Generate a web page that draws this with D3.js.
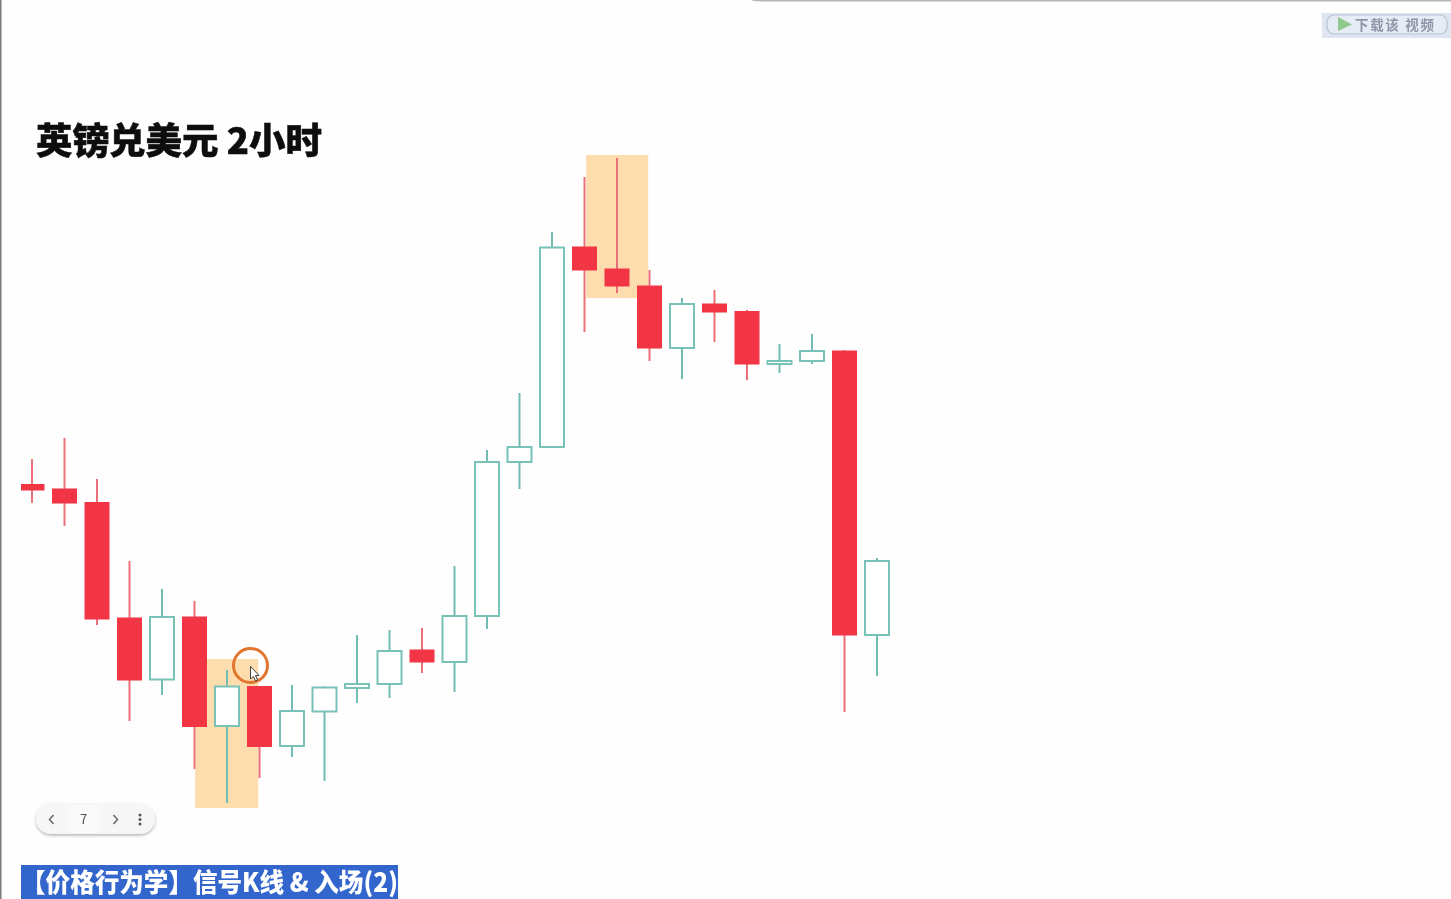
<!DOCTYPE html>
<html>
<head>
<meta charset="utf-8">
<style>
html, body { margin: 0; padding: 0; background: #fefefe; overflow: hidden; }
svg { display: block; }
text { font-family: "Noto Sans CJK SC", "Noto Sans", sans-serif; }
</style>
</head>
<body>
<script src="https://cdnjs.cloudflare.com/ajax/libs/d3/7.8.5/d3.min.js"></script>
<script>
//-----------------------------DATA-----------------------------//
// no price axis in the picture, so levels are just read off it (unitless)
var opens  = [414.5, 410, 396.5, 281, 219.5, 282, 173, 212.5, 153, 187.5, 211, 215, 249, 237, 283, 437, 452, 652, 630, 613, 551, 595, 587.5, 535, 538, 548, 264];
var closes = [409, 396, 280, 219, 282, 172.5, 212.5, 152.5, 188, 211.5, 215, 248, 237, 283, 437, 452, 651.5, 629, 613, 551, 595, 587, 535, 538, 548, 264, 338];
var highs  = [440, 461, 420, 338, 310, 298, 229, 213, 214, 212.5, 264, 269, 271, 333, 449, 506, 667, 722, 741, 629, 601, 609, 589, 555, 565, 549, 341];
var lows   = [396, 373, 274, 178, 204, 130, 96, 121, 142, 118, 196, 201, 226, 207, 270, 410, 452, 567, 606, 538, 520, 557, 519, 526, 535, 187, 223];
var candleIndex = d3.range(opens.length);

var titleText = "英镑兑美元 2小时";
var bannerText = "【价格行为学】信号K线 & 入场(2)";
var pageLabel = "7";
var buttonText = "下载该 视频";

// highlighted zones: first/last candle slot and the level range
var zoneSlots  = [[5.02, 6.96], [17.05, 18.96]];
var zoneLevels = [[91, 240], [601, 744]];

//-----------------------------SVG------------------------------//
var width = 1451;
var height = 899;
var bodyW = 24;

var svg = d3.select("body").append("svg")
    .attr("width", width)
    .attr("height", height);

var defs = svg.append("defs");
defs.append("clipPath").attr("id", "plot")
    .append("rect").attr("x", 21).attr("y", 0).attr("width", width).attr("height", height);
var soft = defs.append("filter").attr("id", "soft");
soft.append("feGaussianBlur").attr("stdDeviation", 0.6);
// the reference is a video frame, everything is a little soft
var video = defs.append("filter").attr("id", "video")
    .attr("filterUnits", "userSpaceOnUse")
    .attr("x", 0).attr("y", 0).attr("width", width).attr("height", height);
video.append("feGaussianBlur").attr("stdDeviation", 0.35);
var shadow = defs.append("filter").attr("id", "shadow")
    .attr("x", "-10%").attr("y", "-30%").attr("width", "120%").attr("height", "170%");
shadow.append("feDropShadow").attr("dx", 0).attr("dy", 1.5).attr("stdDeviation", 1.5)
    .attr("flood-color", "#000").attr("flood-opacity", 0.3);

//----------------------------SCALES----------------------------//
var xScale = d3.scaleLinear().domain([0, 26]).range([32, 877]);
var yScale = d3.scaleLinear().domain([0, 899]).range([899, 0]);

//----------------------------FRAME-----------------------------//
svg.append("rect").attr("x", 0).attr("y", 0).attr("width", 1.5).attr("height", height).attr("fill", "#7d7d7d");
svg.append("path").attr("d", "M752,0.5 Q756,1.5 762,1.5 H1451 V0 H752 Z").attr("fill", "#b5b5b5");

//----------------------------ZONES-----------------------------//
var page = svg.append("g").attr("filter", "url(#video)");
var chart = page.append("g").attr("clip-path", "url(#plot)");

chart.selectAll(".zone")
    .data(zoneSlots)
    .enter().append("rect")
    .attr("class", "zone")
    .attr("x", function(d) { return xScale(d[0]); })
    .attr("width", function(d) { return xScale(d[1]) - xScale(d[0]); })
    .attr("y", function(d, i) { return yScale(zoneLevels[i][1]); })
    .attr("height", function(d, i) { return yScale(zoneLevels[i][0]) - yScale(zoneLevels[i][1]); })
    .attr("fill", "#fddcae");

//---------------------------CANDLES----------------------------//
var isUp = function(i) { return closes[i] < opens[i]; };

chart.selectAll(".wick")
    .data(candleIndex)
    .enter().append("line")
    .attr("class", "wick")
    .attr("x1", function(i) { return xScale(i); })
    .attr("x2", function(i) { return xScale(i); })
    .attr("y1", function(i) { return yScale(highs[i]); })
    .attr("y2", function(i) { return yScale(lows[i]); })
    .attr("stroke", function(i) { return isUp(i) ? "#ec7079" : "#72bcb1"; })
    .attr("stroke-width", 2);

chart.selectAll(".body")
    .data(candleIndex)
    .enter().append("rect")
    .attr("class", "body")
    .attr("x", function(i) { return xScale(i) - bodyW / 2; })
    .attr("width", bodyW)
    .attr("y", function(i) { return yScale(Math.max(opens[i], closes[i])); })
    .attr("height", function(i) { return Math.abs(yScale(opens[i]) - yScale(closes[i])); })
    .attr("fill", function(i) { return isUp(i) ? "#f23545" : "#ffffff"; })
    .attr("stroke", function(i) { return isUp(i) ? "#f23545" : "#78c2b7"; })
    .attr("stroke-width", function(i) { return isUp(i) ? 1 : 2; });

//----------------------------LABELS----------------------------//
page.append("text")
    .attr("x", 36).attr("y", 154)
    .attr("font-size", 36)
    .attr("font-weight", 900)
    .attr("fill", "#111")
    .attr("stroke", "#111")
    .attr("stroke-width", 0.5)
    .attr("textLength", 286)
    .attr("lengthAdjust", "spacingAndGlyphs")
    .text(titleText);

page.append("rect").attr("x", 21).attr("y", 865).attr("width", 377).attr("height", 34).attr("fill", "#3366cc");
page.append("text")
    .attr("x", 21).attr("y", 892)
    .attr("font-size", 26)
    .attr("font-weight", 900)
    .attr("fill", "#ffffff")
    .attr("textLength", 377)
    .attr("lengthAdjust", "spacingAndGlyphs")
    .text(bannerText);

//----------------------------CURSOR----------------------------//
page.append("circle")
    .attr("cx", 250.5).attr("cy", 665.5).attr("r", 17)
    .attr("fill", "none")
    .attr("stroke", "#e2762f")
    .attr("stroke-width", 3);
page.append("path")
    .attr("d", "M250.5,666.5 V679 L253.5,676.5 L255.5,681 L257.5,680 L255.5,675.5 L259,675.5 Z")
    .attr("fill", "#fff")
    .attr("stroke", "#444")
    .attr("stroke-width", 1);

//-----------------------------PAGER----------------------------//
var pager = page.append("g");
pager.append("rect")
    .attr("x", 36).attr("y", 804).attr("width", 119).attr("height", 30).attr("rx", 15)
    .attr("fill", "#f6f6f6")
    .attr("filter", "url(#shadow)");
pager.append("rect")
    .attr("x", 68).attr("y", 805).attr("width", 32).attr("height", 28).attr("rx", 6)
    .attr("fill", "#fafafa");
pager.append("path")
    .attr("d", "M53.5,815 L49.5,819.5 L53.5,824 M113.5,815 L117.5,819.5 L113.5,824")
    .attr("fill", "none")
    .attr("stroke", "#666")
    .attr("stroke-width", 1.5);
pager.append("text")
    .attr("x", 83.5).attr("y", 824)
    .attr("text-anchor", "middle")
    .attr("font-size", 13)
    .attr("fill", "#555")
    .text(pageLabel);
pager.selectAll(".dot")
    .data([-4.5, 0, 4.5])
    .enter().append("circle")
    .attr("class", "dot")
    .attr("cx", 140)
    .attr("cy", function(d) { return 819.5 + d; })
    .attr("r", 1.5)
    .attr("fill", "#555");

//----------------------------BUTTON----------------------------//
var button = svg.append("g").attr("filter", "url(#soft)");
button.append("rect")
    .attr("x", 1322).attr("y", 13).attr("width", 129).attr("height", 25)
    .attr("fill", "#dfe5f1");
button.append("rect")
    .attr("x", 1327).attr("y", 15).attr("width", 120).attr("height", 19).attr("rx", 7)
    .attr("fill", "#e6ebf5")
    .attr("stroke", "#b9c1d2")
    .attr("stroke-width", 1.2);
button.append("path")
    .attr("d", "M1338,17 L1352,24.5 L1338,31 Z")
    .attr("fill", "#8fc98d");
button.append("text")
    .attr("x", 1355).attr("y", 30)
    .attr("font-size", 13.5)
    .attr("font-weight", 700)
    .attr("fill", "#8d97a8")
    .attr("textLength", 79)
    .text(buttonText);
</script>
</body>
</html>
